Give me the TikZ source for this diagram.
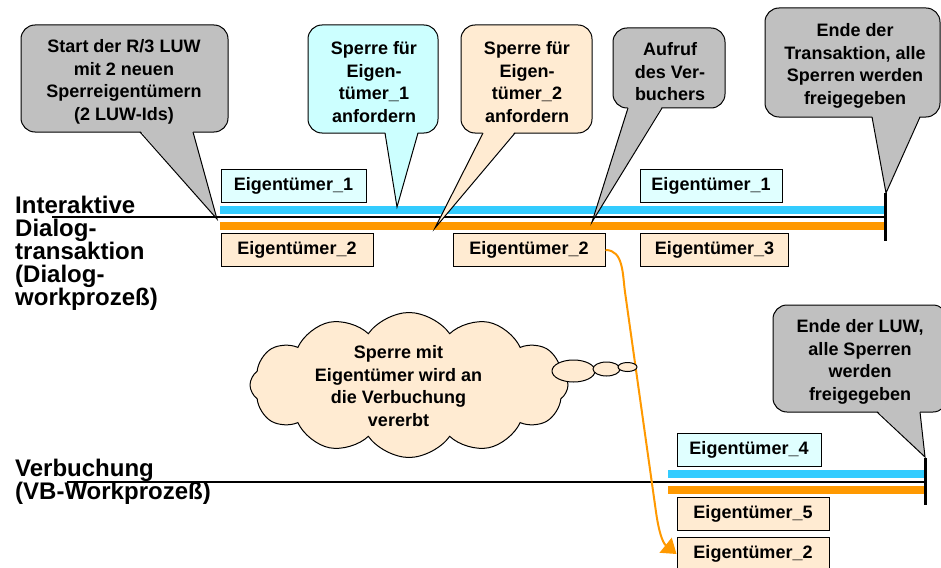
\documentclass[tikz,border=0pt]{standalone}
\usepackage{fontspec}
\setmainfont{Liberation Sans}
\usetikzlibrary{shapes.symbols,arrows.meta}
\definecolor{cgray}{HTML}{C0C0C0}
\definecolor{ccyan}{HTML}{CCFFFF}
\definecolor{lcyan}{HTML}{E0FFFF}
\definecolor{peach}{HTML}{FFEBD2}
\definecolor{barblue}{HTML}{33CCFF}
\definecolor{barorange}{HTML}{FF9900}
\newcommand\mycallout[9]{%
  \draw[fill=#1, line width=1pt, rounded corners=14pt] (#2,#3) rectangle (#4,#5);
  \fill[#1] (#6,{#5-1.5}) -- (#8,#9) -- (#7,{#5-1.5}) -- cycle;
  \draw[line width=1pt, line join=miter] (#6,#5) -- (#8,#9) -- (#7,#5);
}
\begin{document}
\begin{tikzpicture}[x=1pt,y=-1pt,
  txt/.style={font=\fontsize{18}{22.5}\selectfont\bfseries, align=center, inner sep=0pt},
  lane/.style={font=\fontsize{24}{23}\selectfont\bfseries, align=left, inner sep=0pt, anchor=north west},
  ebox/.style={draw=black, line width=1pt, minimum height=33pt, inner sep=0pt,
               font=\fontsize{18}{22}\selectfont\bfseries},
  cbox/.style={ebox, fill=lcyan},
  pbox/.style={ebox, fill=peach},
  thin/.style={line width=1.2pt, black},
  endbar/.style={line width=3pt, black},
  arr/.style={line width=2pt, barorange, -{Triangle[length=14pt,width=19pt]}}
]
\useasboundingbox (0,0) rectangle (941,567);

% ---------- lane labels ----------
\node[lane] (l1) at (15,196) {Interaktive\\Dialog-\\transaktion\\(Dialog-\\workprozeß)};
\node[lane] (l2) at (15,459) {Verbuchung\\(VB-Workprozeß)};

% ---------- time lines ----------
\coordinate (t1s) at (52,217);
\coordinate (t1e) at (885,217);
\coordinate (t2s) at (67,482);
\coordinate (t2e) at (925,482);
\fill[barblue] (220,206) rectangle (885,213.5);
\fill[barorange] (220,222) rectangle (885,229.5);
\draw[thin] (t1s) -- (t1e);
\draw[endbar] (885,193) -- (885,241);

\fill[barblue] (668,470) rectangle (925,477.5);
\fill[barorange] (668,486) rectangle (925,493.5);
\draw[thin] (t2s) -- (t2e);
\draw[endbar] (925,458) -- (925,505);

% ---------- boxes ----------
\node[cbox, minimum width=145pt] (e1a) at (293.5,185.5) {Eigentümer\_1};
\node[pbox, minimum width=152pt] (e2a) at (297,250) {Eigentümer\_2};
\node[pbox, minimum width=152pt] (e2b) at (529,250) {Eigentümer\_2};
\node[cbox, minimum width=142pt] (e1b) at (711,185.5) {Eigentümer\_1};
\node[pbox, minimum width=148pt] (e3) at (714.5,250) {Eigentümer\_3};
\node[cbox, minimum width=144pt] (e4) at (749,450) {Eigentümer\_4};
\node[pbox, minimum width=152pt] (e5) at (753,514) {Eigentümer\_5};
\node[pbox, minimum width=152pt] (e2c) at (753,554) {Eigentümer\_2};

% ---------- orange transfer arrow ----------
\coordinate (c1) at (625,292);
\coordinate (c2) at (656,512);
\draw[arr] (e2b.east) to[out=0,in=98] (c1) -- (c2) to[out=-82,in=141] (e2c.west);

% ---------- callouts ----------
\mycallout{cgray}{21}{25}{228}{132}{140}{193}{217}{219}
\node[txt] (k1) at (124,82) {Start der R/3 LUW\\mit 2 neuen\\Sperreigentümern\\(2 LUW-Ids)};

\mycallout{ccyan}{308}{25}{438}{133}{385}{418}{397}{207}
\node[txt] (k2) at (374,82) {Sperre für\\Eigen-\\tümer\_1\\anfordern};

\mycallout{peach}{461}{25}{592}{133}{483}{515}{435}{228}
\node[txt] (k3) at (527,82) {Sperre für\\Eigen-\\tümer\_2\\anfordern};

\mycallout{cgray}{613}{28}{725}{108}{628}{662}{592}{222}
\node[txt] (k4) at (670,72) {Aufruf\\des Ver-\\buchers};

\mycallout{cgray}{765}{8}{940}{117}{872}{920}{886}{193}
\node[txt] (k5) at (855,66) {Ende der\\Transaktion, alle\\Sperren werden\\freigegeben};

\mycallout{cgray}{773}{305}{947}{412}{877}{920}{925}{457}
\node[txt] (k6) at (860,362) {Ende der LUW,\\alle Sperren\\werden\\freigegeben};

% ---------- thought cloud ----------
\node[cloud, draw=black, line width=1pt, fill=peach, cloud puffs=12, cloud puff arc=110,
      aspect=2.2, minimum width=318pt, minimum height=145pt, inner sep=0pt] (cl) at (409,385) {};
\draw[line width=1pt, fill=peach] (573.5,371) ellipse [x radius=21.5pt, y radius=11pt];
\draw[line width=1pt, fill=peach] (606.5,369) ellipse [x radius=13.5pt, y radius=7pt];
\draw[line width=1pt, fill=peach] (627.5,367) ellipse [x radius=9.5pt, y radius=4.5pt];
\node[txt] (k7) at (398.5,386) {Sperre mit\\Eigentümer wird an\\die Verbuchung\\vererbt};
\end{tikzpicture}
\end{document}
